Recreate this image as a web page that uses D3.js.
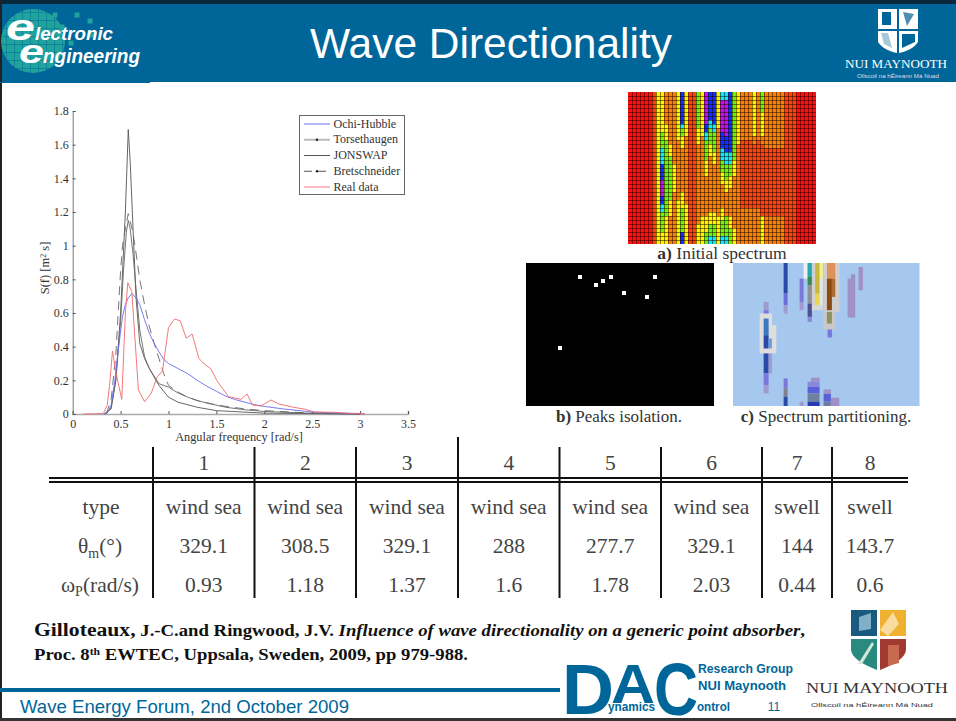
<!DOCTYPE html>
<html><head><meta charset="utf-8">
<script src="https://cdn.jsdelivr.net/npm/d3@7"></script>
<style>html,body{margin:0;padding:0;background:#fff;overflow:hidden}svg{display:block}
.s{font-family:"Liberation Serif",serif}.a{font-family:"Liberation Sans",Arial,sans-serif}</style>
</head><body><svg id="c" width="956" height="721"></svg>
<script>
// ---------- chart data
const xTicks=[0,0.5,1,1.5,2,2.5,3,3.5];
const yTicks=[0,0.2,0.4,0.6,0.8,1,1.2,1.4,1.6,1.8];
const ochiHubble=[[.33,0],[.36,.005],[.4,.05],[.44,.2],[.48,.4],[.52,.58],[.55,.65],[.58,.69],[.62,.715],[.66,.69],[.7,.65],[.75,.56],[.8,.48],[.85,.42],[.9,.37],[.95,.325],[1,.3],[1.1,.27],[1.2,.24],[1.3,.2],[1.4,.165],[1.5,.135],[1.6,.105],[1.7,.085],[1.8,.07],[1.9,.055],[2,.045],[2.2,.03],[2.4,.018],[2.5,.012],[2.7,.007],[3,.003],[3.05,0]];
const torsethaugen=[[.33,0],[.4,.03],[.45,.2],[.5,.55],[.53,.85],[.56,1.08],[.58,1.15],[.6,1.1],[.63,.95],[.66,.75],[.7,.5],[.75,.34],[.8,.27],[.9,.18],[1,.16],[1.1,.125],[1.2,.1],[1.3,.08],[1.4,.065],[1.6,.04],[1.8,.025],[2,.015],[2.5,.004],[3,0]];
const jonswap=[[.33,0],[.4,.03],[.45,.2],[.5,.6],[.55,1.2],[.58,1.69],[.6,1.5],[.63,1.1],[.66,.7],[.7,.42],[.75,.33],[.8,.27],[.9,.17],[1,.1],[1.1,.07],[1.3,.04],[1.5,.02],[2,.005],[3,0]];
const bretschneider=[[.35,0],[.4,.08],[.45,.35],[.5,.85],[.52,1],[.55,1.1],[.58,1.19],[.62,1.1],[.65,1],[.7,.8],[.75,.65],[.8,.52],[.85,.42],[.9,.33],[.95,.24],[1,.17],[1.1,.13],[1.2,.1],[1.3,.08],[1.45,.06],[1.6,.045],[1.8,.03],[2,.02],[2.5,.005],[3,0]];
const realData=[[.11,0],[.32,.003],[.36,.05],[.39,.2],[.415,.374],[.45,.25],[.48,.17],[.512,.087],[.55,.6],[.575,.78],[.617,.727],[.686,.143],[.75,.073],[.82,.123],[.878,.216],[.937,.255],[1,.513],[1.063,.564],[1.122,.554],[1.185,.45],[1.247,.475],[1.317,.33],[1.376,.295],[1.44,.27],[1.505,.198],[1.627,.103],[1.756,.087],[1.82,.119],[1.877,.053],[1.965,.048],[2.07,.083],[2.15,.06],[2.306,.04],[2.43,.028],[2.515,.012],[2.73,.01],[2.87,.004],[3.05,0]];
const legendNames=["Ochi-Hubble","Torsethaugen","JONSWAP","Bretschneider","Real data"];
// ---------- table data
const tableHeads=["1","2","3","4","5","6","7","8"];
const typeRow=["wind sea","wind sea","wind sea","wind sea","wind sea","wind sea","swell","swell"];
const thetaRow=["329.1","308.5","329.1","288","277.7","329.1","144","143.7"];
const omegaRow=["0.93","1.18","1.37","1.6","1.78","2.03","0.44","0.6"];
// ---------- heat map: one string per column, one digit per row (spectrum level)
const RED="0000000000 0000000000 0000000000 00000000";
const ORR="1111111111 1111111111 1111111111 11111111";
const heatColumns=[RED,RED,RED,RED,RED,RED,ORR,
"3333333333 3333333333 3333333333 33333333",
"3333333333 4444666677 7788887766 44444333",
"2222222233 3344444444 4444444444 43333333",
"2222222222 2223334444 4444444333 32222222",
"2222222222 2222222233 3333322222 22222222",
"3333333333 3322222222 2222222333 33333333",
"7777777764 4333222222 2222233334 44444777",
"3333333333 3222222222 2222222233 33333333",
ORR,ORR,
"4444444443 3332222222 2222222222 22233333",
"3333333333 3222222222 2222222222 23333333",
"8888888877 6644444333 3222222222 23333444",
"7777777664 4443332222 2222222222 33344466",
"7777777766 4444433322 2222222222 33344466",
"3333333332 2222222222 2222222222 23333333",
"6688888888 7777666444 3332222223 33444466",
"6688888888 8777766644 4433322222 24444466",
"7777777777 7777766644 4333222222 23334444",
"4444444444 4444444333 3222222222 22223333",
"3333333333 3332222222 2222222222 22222222",
"2222222222 2211111111 1111111112 22222222",
"2222222222 2211111111 1111111112 22222222",
"2222222222 2211111111 1111111112 22222222",
"3333333333 3221111111 1111111112 22222222",
"2222222222 2211111111 1111111112 22222222",
"4444433333 3221111111 1111111111 13333333",
"2222222222 2222111111 1111111111 12222222",
"2222222222 2222111111 1111111111 12222222",
"2222222222 2222111111 1111111111 12222222",
"2222222222 2222111111 1111111111 12222222",
"2222222222 2222111111 1111111111 12222222",
ORR,ORR,ORR,RED,RED,RED,RED,RED];
const heatLevels=["0","1","2","3","4","6","7","8"];
const heatColours=["#ff1010","#fa4410","#f88008","#fff200","#70f010","#10e8f8","#1030ff","#c010f0"];
// ---------- peaks panel (image units)
const peakX=[54,70,77,85,98,121,129,34];
const peakY=[14,22,18,14,30,34,14,85];
// ---------- partition panel: x0,x1,y0,y1,colour (image units)
const partitions=[
[790,802,8,100,"#2a4aa8"],[790,802,100,135,"#6a70d8"],[790,802,135,160,"#a09ad0"],
[730,745,125,150,"#a09ad0"],[730,745,150,165,"#7a78d8"],[718,755,160,280,"#dedede"],[755,768,195,280,"#dedede"],
[730,745,175,225,"#3a78c0"],[730,745,225,265,"#2a4aa8"],[745,755,235,265,"#6aa0e0"],[730,745,280,340,"#2a4aa8"],[745,755,280,340,"#a09ad0"],[730,745,340,375,"#7a78d8"],[730,745,375,400,"#a09ad0"],
[838,850,55,125,"#7a78d8"],[838,850,125,150,"#a09ad0"],[850,862,8,55,"#f0f0f0"],[862,875,8,50,"#28a8b0"],[862,875,50,75,"#3a8a50"],[862,875,75,130,"#909090"],[862,875,130,170,"#505090"],[862,875,170,185,"#8a88d8"],
[875,885,8,150,"#d0d0d0"],[885,898,8,100,"#c8b840"],[885,898,100,135,"#e8d850"],[875,908,135,150,"#d8d8d8"],[898,908,8,55,"#f4f090"],[898,908,55,135,"#e4e4e4"],
[910,958,8,155,"#cfcfcf"],[920,945,8,55,"#e0905a"],[920,935,55,150,"#8a4a10"],[935,945,55,110,"#b06a30"],[910,945,155,208,"#c8c8c8"],[920,935,155,190,"#909060"],[922,935,208,232,"#7a78d8"],
[1015,1028,20,90,"#a090c8"],[992,1005,42,172,"#a090c8"],[982,992,55,172,"#a090c8"],
[790,802,355,385,"#7a78d8"],[790,802,385,410,"#808090"],[790,802,410,438,"#2a4aa8"],[838,850,425,438,"#a09ad0"],
[872,898,353,365,"#a090c8"],[862,898,365,380,"#8a88d8"],[862,898,380,400,"#5a60d8"],[862,898,400,425,"#7080a0"],[862,898,425,438,"#2a3ab0"],
[910,932,388,402,"#a090c8"],[910,932,402,425,"#5a60d8"],[910,932,425,438,"#707ca0"],[932,957,413,438,"#a090c8"]];

const svg=d3.select("#c");
const T=(x,y,t,size,o={})=>{const e=svg.append("text").attr("x",x).attr("y",y).attr("font-size",size).attr("class",o.c||"s").attr("fill",o.f||"#222").attr("text-anchor",o.a||"start");
 if(o.w)e.attr("font-weight",o.w); if(o.i)e.attr("font-style","italic"); if(o.t)e.attr("transform",o.t); if(o.l)e.attr("textLength",o.l).attr("lengthAdjust","spacingAndGlyphs"); e.text(t); return e;};
const R=(x,y,w,h,f)=>svg.append("rect").attr("x",x).attr("y",y).attr("width",w).attr("height",h).attr("fill",f);
const P=(d,f)=>svg.append("path").attr("d",d).attr("fill",f);
const BLUE="#006699";

// ---------- frame and header
R(0,3,956,79,BLUE);R(0,0,956,4,"#06283a");R(0,0,2,721,"#222");R(0,82,150,1,BLUE);R(0,718,956,3,"#333");
svg.append("circle").attr("cx",33).attr("cy",41).attr("r",32).attr("fill","#1fa39c");
d3.range(8).forEach(i=>{R(6+i*8,8,1,66,BLUE).attr("opacity",.45);R(2,12+i*8,62,1,BLUE).attr("opacity",.45);});
[[77,15],[90,21],[92,35],[71,43],[55,15],[62,27]].forEach(d=>R(d[0]-2.5,d[1]-2.5,5,5,"#1fa39c"));
T(6,40,"e",36,{c:"a",f:"#fff",w:"bold",i:1,l:29});T(35,40,"lectronic",18,{c:"a",f:"#fff",w:"bold",i:1,l:78});
T(19,63,"e",34,{c:"a",f:"#fff",w:"bold",i:1,l:25});T(43,63,"ngineering",20,{c:"a",f:"#fff",w:"bold",i:1,l:97});
T(491,58,"Wave Directionality",42,{c:"a",f:"#fff",a:"middle",l:362});
// top-right crest
P("M878,9H897V29H878Z","#fff");P("M899,9H918V29H899Z","#fff");P("M878,31H897V53C888,51 881,47 878,42Z","#fff");P("M899,31H918V42C915,47 908,51 899,53Z","#fff");
P("M882,12H891V25H882Z",BLUE);P("M903,12L914,14L907,26Z","#4f8fb0");P("M881,33H888L892,48L884,44Z","#a8c8d8");P("M902,34H915V42L902,48Z",BLUE);
T(896,68,"NUI MAYNOOTH",11.5,{f:"#fff",a:"middle",l:102});
T(898,78,"Ollscoil na hÉireann Má Nuad",5,{c:"a",f:"#dde",a:"middle",l:82});

// ---------- spectrum plot
const x=d3.scaleLinear().domain([0,3.5]).range([72.7,408]);
const y=d3.scaleLinear().domain([0,1.8]).range([414,111]);
const line=d3.line().x(d=>x(d[0])).y(d=>y(d[1]));
const ga=svg.append("g").attr("transform","translate(0,414)").call(d3.axisBottom(x).tickValues(xTicks).tickSize(-3).tickPadding(5).tickFormat(d3.format("~g")));
const gy=svg.append("g").attr("transform","translate(72.7,0)").call(d3.axisLeft(y).tickValues(yTicks).tickSize(-3).tickPadding(4).tickFormat(d3.format("~g")));
[ga,gy].forEach(g=>{g.selectAll("text").attr("class","s").attr("font-size",12).attr("fill","#333").attr("font-family",null);g.selectAll("line").attr("stroke","#555");g.select(".domain").attr("stroke","#777");});
ga.select(".domain").attr("stroke","#aaa").attr("stroke-width",1.6);
const series=[[jonswap,"#555",null,.9],[torsethaugen,"#666",null,.9],[bretschneider,"#666","9,6",.9],[ochiHubble,"#6a6af0",null,.9],[realData,"#f06a6a",null,.9]];
svg.append("g").attr("fill","none").selectAll("path").data(series).join("path").attr("d",d=>line(d[0])).attr("stroke",d=>d[1]).attr("stroke-dasharray",d=>d[2]).attr("stroke-width",d=>d[3]);
T(239,441,"Angular frequency [rad/s]",12.3,{a:"middle",f:"#333"});
const yl=T(49,268,"",12.5,{a:"middle",f:"#333",t:"rotate(-90 49 268)"});
yl.append("tspan").text("S(f) [m");yl.append("tspan").attr("dy",-3).attr("font-size",8).text("2");yl.append("tspan").attr("dy",3).text(" s]");
// legend
svg.append("rect").attr("x",299.5).attr("y",115.5).attr("width",105).attr("height",79).attr("fill","#fff").attr("stroke","#666");
const lc=["#6a6af0","#bbb","#555","#555","#f8a0a8"],ld=[null,null,null,"8,6",null],lw=[1,2,1,1,1.4];
const ly=d3.scalePoint().domain(legendNames).range([124,187]);
legendNames.forEach((n,i)=>{
 svg.append("line").attr("x1",304).attr("x2",330).attr("y1",ly(n)).attr("y2",ly(n)).attr("stroke",lc[i]).attr("stroke-width",lw[i]).attr("stroke-dasharray",ld[i]);
 if(i==1||i==3)svg.append("circle").attr("cx",317).attr("cy",ly(n)).attr("r",1.2).attr("fill","#222");
 T(333.5,ly(n)+3.5,n,12,{f:"#333"});
});

// ---------- table
const colEdges=[153,254.5,356,458,559.5,661,762,832];
const colRight=[...colEdges.slice(1),908];
R(49,477,859,2,"#111");R(49,481,859,2,"#111");
colEdges.forEach((e,i)=>R(e-1,i==3?437:447,2,(i==3?161:151),"#111"));
const colMid=colEdges.map((e,i)=>(e+colRight[i])/2);
[[tableHeads,470],[typeRow,514],[thetaRow,553],[omegaRow,592]].forEach(([row,b])=>row.forEach((t,i)=>T(colMid[i],b,t,21.5,{a:"middle",f:"#444"})));
T(101,514,"type",21.5,{a:"middle",f:"#444"});
const th=T(100,553,"",21.5,{a:"middle",f:"#444"});th.append("tspan").text("θ");th.append("tspan").attr("dy",5).attr("font-size",14).text("m");th.append("tspan").attr("dy",-5).text("(°)");
const om=T(100,592,"",21.5,{a:"middle",f:"#444"});om.append("tspan").text("ω");om.append("tspan").attr("dy",4).attr("font-size",14).text("P");om.append("tspan").attr("dy",-4).text("(rad/s)");

// ---------- heat map
const cols=heatColumns.map(c=>c.replace(/ /g,""));
const hx=d3.scaleBand().domain(d3.range(cols.length)).range([628,816]);
const hy=d3.scaleBand().domain(d3.range(38)).range([92,244]);
const hc=d3.scaleOrdinal().domain(heatLevels).range(heatColours);
const hg=svg.append("g");
cols.forEach((col,i)=>[...col].forEach((v,j)=>hg.append("rect").attr("x",hx(i)).attr("y",hy(j)).attr("width",hx.bandwidth()).attr("height",hy.bandwidth()).attr("fill",hc(v))));
const hl=svg.append("g").attr("stroke","#1a0500").attr("stroke-width",1).attr("stroke-opacity",.5);
d3.range(1,cols.length).forEach(i=>hl.append("line").attr("x1",hx(i)+.5).attr("x2",hx(i)+.5).attr("y1",92).attr("y2",244));
d3.range(1,38).forEach(j=>hl.append("line").attr("x1",628).attr("x2",816).attr("y1",hy(j)+.5).attr("y2",hy(j)+.5));
const cap=(cx,yy,b,t,s)=>{const e=T(cx,yy,"",s,{a:"middle",f:"#333"});e.append("tspan").attr("font-weight","bold").text(b);e.append("tspan").text(" "+t);};
cap(722,259,"a)","Initial spectrum",17.5);
// ---------- peaks
R(526,263,188,143,"#000");
const px=d3.scaleLinear().domain([0,188]).range([526,714]),py=d3.scaleLinear().domain([0,143]).range([263,406]);
svg.append("g").selectAll("rect").data(peakX).join("rect").attr("x",(d)=>px(d)-2).attr("y",(d,i)=>py(peakY[i])-2).attr("width",4).attr("height",4).attr("fill","#fff");
cap(619,422,"b)","Peaks isolation.",17);
// ---------- partitions
R(733,263,186.5,143,"#a6c8ee");
const qx=d3.scaleLinear().domain([638,1198]).range([733,919.5]),qy=d3.scaleLinear().domain([8,438]).range([263,406]);
svg.append("g").selectAll("rect").data(partitions).join("rect").attr("x",d=>qx(d[0])).attr("y",d=>qy(d[2])).attr("width",d=>qx(d[1])-qx(d[0])).attr("height",d=>qy(d[3])-qy(d[2])).attr("fill",d=>d[4]);
cap(826,422,"c)","Spectrum partitioning.",17);

// ---------- citation
const c1=T(34,636,"",18.5,{w:"bold",f:"#111",l:771});c1.append("tspan").text("Gilloteaux,");c1.append("tspan").attr("font-size",16).text(" J.-C.and Ringwood, J.V. ");c1.append("tspan").attr("font-size",16).attr("font-style","italic").text("Influence of wave directionality on a generic point absorber");c1.append("tspan").attr("font-size",16).text(",");
const c2=T(34,660,"",16,{w:"bold",f:"#111",l:434});c2.append("tspan").text("Proc. 8");c2.append("tspan").attr("font-size",10).attr("dy",-5).text("th");c2.append("tspan").attr("dy",5).text(" EWTEC, Uppsala, Sweden, 2009, pp 979-988.");

// ---------- footer
R(0,688,560,4,BLUE);
T(20,713,"Wave Energy Forum, 2nd October 2009",18.5,{c:"a",f:BLUE,l:329});
T(562,714,"D",71,{c:"a",f:BLUE,w:"bold",l:52});T(611,703,"A",56,{c:"a",f:BLUE,w:"bold",l:44});T(654,715,"C",74,{c:"a",f:BLUE,w:"bold",l:44});
T(698,673,"Research Group",13,{c:"a",f:BLUE,w:"bold",l:95});T(698,690,"NUI Maynooth",13,{c:"a",f:BLUE,w:"bold",l:88});
T(608,711,"ynamics",12,{c:"a",f:BLUE,w:"bold",l:47});T(697,711,"ontrol",12,{c:"a",f:BLUE,w:"bold",l:33});
T(774,711,"11",12,{c:"a",f:BLUE,a:"middle"});
P("M851,610H877V636H851Z","#1a5a80");P("M880,610H906V636H880Z","#f0b030");P("M851,639H877V670C862,664 852,658 851,650Z","#2a8a80");P("M880,639H906V650C905,658 895,664 880,670Z","#a03a30");
P("M859,617L871,613V629L859,631Z","#7fb0c8");P("M893,612L899,624L888,636L880,630Z","#f8dca0");P("M858,664L872,642L874,644L862,664Z","#cfe8d8");P("M888,645H899V663L888,666Z","#c86a50");
T(877,693,"NUI MAYNOOTH",15.5,{a:"middle",f:"#333",l:142});
T(872,707,"Ollscoil na hÉireann Má Nuad",6,{c:"a",a:"middle",f:"#333",l:122});
</script></body></html>
